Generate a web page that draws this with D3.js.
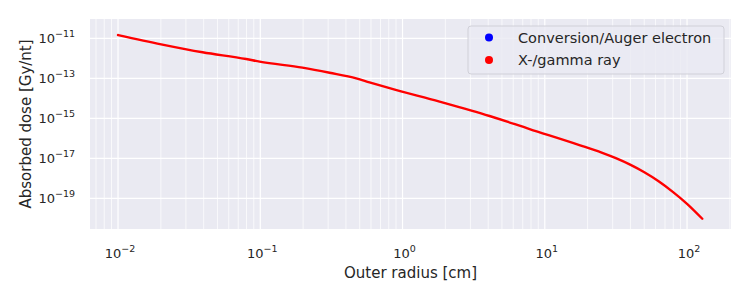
<!DOCTYPE html>
<html>
<head>
<meta charset="utf-8">
<script src="https://cdn.jsdelivr.net/npm/d3@7"></script>
<style>
  body { margin: 0; background: #fff; }
  text { font-family: "DejaVu Sans", sans-serif; fill: #262626; }
</style>
</head>
<body>
<div id="chart"></div>
<script>
// outer radius [cm] and absorbed dose [Gy/nt]
var radius = [0.01, 0.0201, 0.0393, 0.0796, 0.0989, 0.198, 0.307, 0.473, 0.586, 0.811,
  1.82, 4.09, 7.82, 17.5, 25.1, 31.6, 39.8, 50.1, 63.1, 79.4, 100, 128];
var gammaDose = [1.46e-11, 5.0e-12, 2.0e-12, 9.2e-13, 6.8e-13, 3.4e-13, 1.9e-13, 1.0e-13, 6.3e-14, 3.2e-14,
  6.8e-15, 1.3e-15, 2.9e-16, 4.6e-17, 1.92e-17, 1.01e-17, 4.8e-18, 2.0e-18, 7.1e-19, 2.1e-19, 5.3e-20, 9.5e-21];
// electron series has no visible points
var electronDose = [];

var seriesNames = ["Conversion/Auger electron", "X-/gamma ray"];
var seriesColors = ["#0000ff", "#ff0000"];
var xTicks = [1e-2, 1e-1, 1e0, 1e1, 1e2];
var yTicks = [1e-11, 1e-13, 1e-15, 1e-17, 1e-19];

var width = 750,
  height = 300,
  margin = {top: 19, right: 19, bottom: 71, left: 90};

var svg = d3.select("#chart").append("svg")
  .attr("width", width)
  .attr("height", height);

var x = d3.scaleLog()
  .domain([Math.pow(10, -2.197), Math.pow(10, 2.309)])
  .range([margin.left, width - margin.right]);

var y = d3.scaleLog()
  .domain([Math.pow(10, -20.535), Math.pow(10, -10.035)])
  .range([height - margin.bottom, margin.top]);

// background
svg.append("rect")
  .attr("x", margin.left)
  .attr("y", margin.top)
  .attr("width", width - margin.left - margin.right)
  .attr("height", height - margin.top - margin.bottom)
  .attr("fill", "#eaeaf2");

// minor x grid
var minor = [];
for (var e = -3; e <= 2; e++) {
  for (var k = 2; k <= 9; k++) {
    var v = k * Math.pow(10, e);
    if (v > x.domain()[0] && v < x.domain()[1]) minor.push(v);
  }
}
svg.append("g").selectAll("line")
  .data(minor)
  .enter().append("line")
  .attr("x1", function(d) { return x(d); })
  .attr("x2", function(d) { return x(d); })
  .attr("y1", margin.top)
  .attr("y2", height - margin.bottom)
  .attr("stroke", "#fff")
  .attr("stroke-width", 0.7);

// major grid
svg.append("g").selectAll("line")
  .data(xTicks)
  .enter().append("line")
  .attr("x1", function(d) { return x(d); })
  .attr("x2", function(d) { return x(d); })
  .attr("y1", margin.top)
  .attr("y2", height - margin.bottom)
  .attr("stroke", "#fff")
  .attr("stroke-width", 1.2);

svg.append("g").selectAll("line")
  .data(yTicks)
  .enter().append("line")
  .attr("x1", margin.left)
  .attr("x2", width - margin.right)
  .attr("y1", function(d) { return y(d); })
  .attr("y2", function(d) { return y(d); })
  .attr("stroke", "#fff")
  .attr("stroke-width", 1.2);

function expOf(d) {
  var p = Math.round(Math.log10(d));
  return (p < 0 ? "\u2212" + (-p) : "" + p);
}

// x tick labels
var xl = svg.append("g").selectAll("text")
  .data(xTicks)
  .enter().append("text")
  .attr("x", function(d) { return x(d) + 2; })
  .attr("y", 258)
  .attr("text-anchor", "middle")
  .style("font-size", "13px");
xl.append("tspan").text("10");
xl.append("tspan").attr("dy", -6).style("font-size", "9.5px").text(function(d) { return expOf(d); });

// y tick labels
var yl = svg.append("g").selectAll("text")
  .data(yTicks)
  .enter().append("text")
  .attr("x", 75)
  .attr("y", function(d) { return y(d) + 5; })
  .attr("text-anchor", "end")
  .style("font-size", "13px");
yl.append("tspan").text("10");
yl.append("tspan").attr("dy", -6).style("font-size", "9.5px").text(function(d) { return expOf(d); });

// axis titles
svg.append("text")
  .attr("x", (margin.left + width - margin.right) / 2)
  .attr("y", 278)
  .attr("text-anchor", "middle")
  .style("font-size", "15px")
  .text("Outer radius [cm]");

svg.append("text")
  .attr("transform", "translate(31," + ((margin.top + height - margin.bottom) / 2) + ") rotate(-90)")
  .attr("text-anchor", "middle")
  .style("font-size", "15px")
  .text("Absorbed dose [Gy/nt]");

// series
var line = d3.line()
  .x(function(d) { return x(d[0]); })
  .y(function(d) { return y(d[1]); })
  .curve(d3.curveMonotoneX);

var electron = d3.zip(radius.slice(0, electronDose.length), electronDose);
var gamma = d3.zip(radius, gammaDose);

svg.append("path")
  .datum(electron)
  .attr("d", line)
  .attr("fill", "none")
  .attr("stroke", seriesColors[0])
  .attr("stroke-width", 2);

svg.append("path")
  .datum(gamma)
  .attr("d", line)
  .attr("fill", "none")
  .attr("stroke", seriesColors[1])
  .attr("stroke-width", 2.4)
  .attr("stroke-linecap", "round");

// legend
var legend = svg.append("g").attr("transform", "translate(468,26)");
legend.append("rect")
  .attr("width", 256)
  .attr("height", 48)
  .attr("rx", 3)
  .attr("fill", "#eaeaf2")
  .attr("fill-opacity", 0.8)
  .attr("stroke", "#d0d0d8");

var items = legend.selectAll(".item")
  .data(seriesNames)
  .enter().append("g")
  .attr("class", "item")
  .attr("transform", function(d, i) { return "translate(0," + (11.5 + i * 22.5) + ")"; });

items.append("circle")
  .attr("cx", 21)
  .attr("r", 4)
  .attr("fill", function(d, i) { return seriesColors[i]; });

items.append("text")
  .attr("x", 50)
  .attr("y", 5)
  .style("font-size", "14.5px")
  .text(function(d) { return d; });
</script>
</body>
</html>
